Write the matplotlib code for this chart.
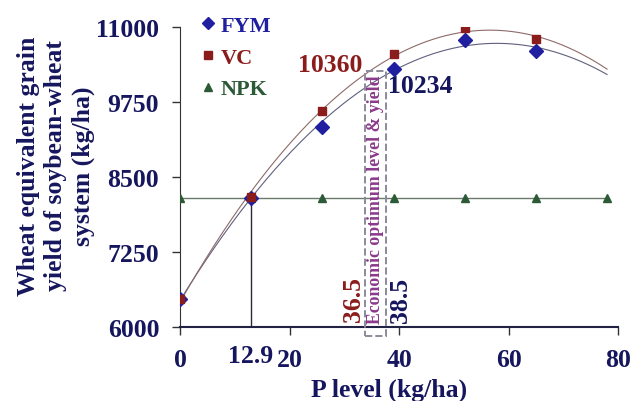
import matplotlib
matplotlib.use("Agg")
import matplotlib.pyplot as plt
import matplotlib.transforms as mtransforms
from matplotlib.patches import Rectangle
import numpy as np

# data
p_levels = [0, 13, 26, 39, 52, 65]
fym = [6470, 8150, 9330, 10300, 10790, 10600]
vc = [6470, 8170, 9600, 10550, 10980, 10800]
npk_levels = [0, 13, 26, 39, 52, 65, 78]
npk = [8150, 8150, 8150, 8150, 8150, 8150, 8150]
x_ticks = [0, 20, 40, 60, 80]
y_ticks = [6000, 7250, 8500, 9750, 11000]
break_even = 12.9
opt_vc, opt_fym = 36.5, 38.5
yield_vc, yield_fym = 10360, 10234

navy = "#16165e"
blue = "#1f1fa0"
red = "#8b1c1c"
green = "#2c5a36"
purple = "#8a3a8a"

plt.rcParams["font.family"] = ["Liberation Serif", "DejaVu Serif"]
plt.rcParams["font.weight"] = "bold"

fig = plt.figure(figsize=(6.32, 4.02), dpi=100)
ax = fig.add_axes([180 / 632, 1 - 328 / 402, 438 / 632, 300 / 402])

# quadratic trend lines
xs = np.linspace(0, 78, 200)
c_fym = np.polyfit(p_levels, fym, 2)
c_vc = np.polyfit(p_levels, vc, 2)
ax.plot(xs, np.polyval(c_fym, xs), color="#60607e", lw=0.8, zorder=2)
ax.plot(xs, np.polyval(c_vc, xs), color="#8e6a6a", lw=0.8, zorder=2)

ax.plot(npk_levels, npk, color="#6a7a6a", lw=1.0, zorder=2)
h_npk, = ax.plot(npk_levels, npk, ls="none", marker="^", ms=6, color=green,
                 zorder=3, label="NPK")
h_fym, = ax.plot(p_levels, fym, ls="none", marker="D", ms=7, color=blue, zorder=4,
                 label="FYM")
h_vc, = ax.plot(p_levels, vc, ls="none", marker="s", ms=6, color=red, zorder=4,
                label="VC")

# break-even line
ax.plot([break_even, break_even], [6000, npk[0]], color="#2a2a3a", lw=1.0, zorder=2)

ax.set_xlim(0, 80)
ax.set_ylim(6000, 11000)
ax.set_xticks(x_ticks)
ax.set_yticks(y_ticks)
ax.set_xticklabels([""] + [str(t) for t in x_ticks[1:]])
ax.tick_params(axis="both", direction="out", length=6, width=1, colors="#333333",
               labelsize=18.5, labelcolor=navy)
ax.tick_params(axis="x", pad=9)
ax.tick_params(axis="y", pad=9)
for lab in ax.get_xticklabels() + ax.get_yticklabels():
    lab.set_fontweight("bold")
for s in ["top", "right"]:
    ax.spines[s].set_visible(False)
ax.spines["left"].set_color("#333333")
ax.spines["bottom"].set_color("#222244")
ax.spines["bottom"].set_linewidth(1.5)

trans = mtransforms.blended_transform_factory(ax.transData, ax.transAxes)
ax.text(0, -0.11, "0", transform=trans, ha="center", va="center", fontsize=18.5,
        color=navy, fontweight="bold")
ax.text(break_even, -0.095, str(break_even), transform=trans, ha="center", va="center",
        fontsize=18.5, color=navy, fontweight="bold")

# economic optimum annotations
ax.add_patch(Rectangle((33.8, 5850), 3.8, 4420, fill=False, ls="--", lw=1.4,
                       ec="#8a8a9a", clip_on=False, zorder=5))
ax.text(35.7, 8130, "Economic optimum level & yield", rotation=90, ha="center",
        va="center", fontsize=12.8, color=purple, fontweight="bold", zorder=6)
ax.text(31.6, 6470, str(opt_vc), rotation=90, ha="center", va="center",
        fontsize=18.5, color=red, fontweight="bold")
ax.text(40.2, 6460, str(opt_fym), rotation=90, ha="center", va="center",
        fontsize=18.5, color=navy, fontweight="bold")
ax.text(27.4, 10367, str(yield_vc), ha="center", va="center", fontsize=18.5,
        color=red, fontweight="bold")
ax.text(43.8, 10030, str(yield_fym), ha="center", va="center", fontsize=18.5,
        color=navy, fontweight="bold")

leg = ax.legend(handles=[h_fym, h_vc, h_npk],
                loc="upper left", bbox_to_anchor=(0.005, 1.105), frameon=False,
                fontsize=16, handlelength=0.5, handletextpad=0.35, labelspacing=0.5,
                markerscale=0.85)
for txt, col in zip(leg.get_texts(), [blue, red, green]):
    txt.set_color(col)
    txt.set_fontweight("bold")

fig.text(56 / 632, 1 - 166 / 402,
         "Wheat equivalent grain\nyield of soybean-wheat\nsystem (kg/ha)",
         rotation=90, ha="center", va="center", multialignment="center",
         fontsize=18.5, color=navy, fontweight="bold", linespacing=1.25)
fig.text(389 / 632, 1 - 390 / 402, "P level (kg/ha)", ha="center", va="center",
         fontsize=18.5, color=navy, fontweight="bold")

fig.savefig("out.png", dpi=100)
